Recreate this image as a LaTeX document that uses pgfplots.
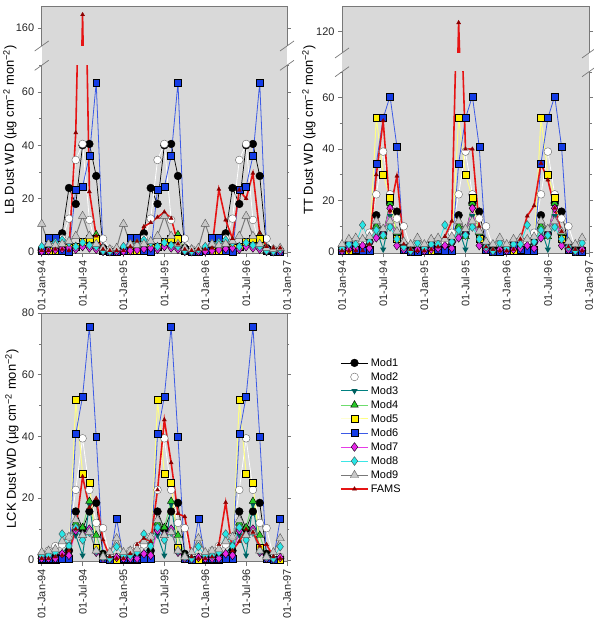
\documentclass[border=0pt]{standalone}
\usepackage{fontspec}
\setmainfont{Liberation Sans}
\usepackage{pgfplots}
\usepackage{pgfplotstable}
\pgfplotsset{compat=1.18}

\definecolor{bgc}{RGB}{217,217,217}
\definecolor{frm}{RGB}{120,120,120}
\definecolor{c3}{RGB}{0,128,128}
\definecolor{c3m}{RGB}{0,95,95}
\definecolor{c4}{RGB}{110,220,110}
\definecolor{c4m}{RGB}{40,200,40}
\definecolor{c5}{RGB}{255,255,130}
\definecolor{c5m}{RGB}{255,240,0}
\definecolor{c6}{RGB}{60,90,230}
\definecolor{c6m}{RGB}{20,60,230}
\definecolor{c7}{RGB}{230,60,230}
\definecolor{c7m}{RGB}{230,40,230}
\definecolor{c8}{RGB}{60,230,230}
\definecolor{c8m}{RGB}{40,230,230}
\definecolor{c9}{RGB}{120,120,120}
\definecolor{c9m}{RGB}{200,200,200}
\definecolor{cf}{RGB}{230,20,20}
\definecolor{cfm}{RGB}{140,0,0}

\pgfplotstableread{
m M1 M2 M3 M4 M5 M6 M7 M8 M9 F
0 0.5 1 0.3 0.5 0.3 0.5 0.3 2 10.5 0.5
1 2 2 0.5 0.5 0.5 5.5 0.5 3 3 0.5
2 4.5 3 1 1 0.5 5.5 0.8 3.5 2.5 1
3 7 5 1.5 1.5 1 0.3 1.2 4.5 3 1
4 24 12.5 2 2 1.5 0 1.5 3.5 4 0.5
5 18 34.5 1 2 2 23.5 1 2 6 44.7
6 40 40.5 2 3 4 24.5 2 3.5 13.5 165
7 40.5 12 3 4 5 36 1.5 2.5 6 22.6
8 28.5 2 5 6.5 5 63.5 1 2 3 6
9 1.5 5 0.5 0.5 0.5 1 0.2 0.5 1.5 1
10 0.5 1 0.2 0.2 0.2 0 0.1 0.3 1 0.5
11 0.5 0.5 0.2 0.2 0.2 0 0.2 1 1.5 0.5
12 0.5 1 0.3 0.5 0.3 0.5 0.3 2 10.5 0.5
13 2 2 0.5 0.5 0.5 5.5 0.5 3 3 2
14 4.5 3 1 1 0.5 5.5 0.8 3.5 2.5 4
15 7 5 1.5 1.5 1 0.3 1.2 4.5 3 9.5
16 24 12.5 2 2 1.5 0 1.5 3.5 4 11
17 18 34.5 1 2 2 23.5 1 2 6 13
18 40 40.5 2 3 4 24.5 2 3.5 13.5 15
19 40.5 12 3 4 5 36 1.5 2.5 6 12.6
20 28.5 2 5 6.5 5 63.5 1 2 3 3
21 1.5 5 0.5 0.5 0.5 1 0.2 0.5 1.5 1
22 0.5 1 0.2 0.2 0.2 0 0.1 0.3 1 0.5
23 0.5 0.5 0.2 0.2 0.2 0 0.2 1 1.5 1
24 0.5 1 0.3 0.5 0.3 0.5 0.3 2 10.5 1
25 2 2 0.5 0.5 0.5 5.5 0.5 3 3 1.5
26 4.5 3 1 1 0.5 5.5 0.8 3.5 2.5 23.5
27 7 5 1.5 1.5 1 0.3 1.2 4.5 3 12
28 24 12.5 2 2 1.5 0 1.5 3.5 4 5
29 18 34.5 1 2 2 23.5 1 2 6 23.2
30 40 40.5 2 3 4 24.5 2 3.5 13.5 20
31 40.5 12 3 4 5 36 1.5 2.5 6 29.5
32 28.5 2 5 6.5 5 63.5 1 2 3 7
33 1.5 5 0.5 0.5 0.5 1 0.2 0.5 1.5 2
34 0.5 1 0.2 0.2 0.2 0 0.1 0.3 1 1.5
35 0.5 0.5 0.2 0.2 0.2 0 0.2 1 1.5 1.5
}\tabLB

\pgfplotstableread{
m M1 M2 M3 M4 M5 M6 M7 M8 M9 F
0 0.5 1 0.5 0.5 0.5 0.5 0.5 1.5 3 0.5
1 1 2 0.5 0.5 0.5 3 1 3 5 0.5
2 1.5 3 1 1 0.5 1 1.5 3 5.5 0.5
3 2 4 1 1 1 0.5 2.5 10.5 5 0.5
4 4 7.5 3 2 1 0.5 1.5 4 6 3
5 14.3 22.4 9 10 52.3 34.4 5.5 8.5 12 30
6 7 39 1 6 30.2 52 7 6.5 9 51
7 19 22.4 14 19 21.2 60.5 17 9.7 12 16
8 15.7 13 4 7.5 5 41 2.5 5 8 29.5
9 3 10 1 2 1 1 1 2 4 3
10 1 2 0.3 0.5 0.5 0 0.3 0.5 3 1
11 0.5 1 0.3 0.5 0.5 0 1 3.5 5.5 0.5
12 0.5 1 0.5 0.5 0.5 0.5 0.5 1.5 3 0.5
13 1 2 0.5 0.5 0.5 3 1 3 5 1
14 1.5 3 1 1 0.5 1 1.5 3 5.5 2
15 2 4 1 1 1 0.5 2.5 10.5 5 6
16 4 7.5 3 2 1 0.5 1.5 4 6 12
17 14.3 22.4 9 10 52.3 34.4 5.5 8.5 12 123.5
18 7 39 1 6 30.2 52 7 6.5 9 40
19 19 22.4 14 19 21.2 60.5 17 9.7 12 40
20 15.7 13 4 7.5 5 41 2.5 5 8 10
21 3 10 1 2 1 1 1 2 4 2
22 1 2 0.3 0.5 0.5 0 0.3 0.5 3 1
23 0.5 1 0.3 0.5 0.5 0 1 3.5 5.5 0.5
24 0.5 1 0.5 0.5 0.5 0.5 0.5 1.5 3 0.5
25 1 2 0.5 0.5 0.5 3 1 3 5 1
26 1.5 3 1 1 0.5 1 1.5 3 5.5 5
27 2 4 1 1 1 0.5 2.5 10.5 5 14
28 4 7.5 3 2 1 0.5 1.5 4 6 18
29 14.3 22.4 9 10 52.3 34.4 5.5 8.5 12 34.4
30 7 39 1 6 30.2 52 7 6.5 9 28
31 19 22.4 14 19 21.2 60.5 17 9.7 12 17
32 15.7 13 4 7.5 5 41 2.5 5 8 8
33 3 10 1 2 1 1 1 2 4 2
34 1 2 0.3 0.5 0.5 0 0.3 0.5 3 1
35 0.5 1 0.3 0.5 0.5 0 1 3.5 5.5 0.5
}\tabTT

\pgfplotstableread{
m M1 M2 M3 M4 M5 M6 M7 M8 M9 F
0 0.5 1.5 0.5 0.3 0 0.5 0.5 1.5 2.5 0.5
1 0.5 3 0.5 0.3 0 0.5 0.5 1.5 3 0.5
2 1 4.5 1 0.5 0 0.5 0.5 2.5 3.5 1
3 1.5 5 2 1 0.3 0.5 2 8.4 6 1.5
4 3 7.5 5 2 0.5 0.5 1.5 4.5 7.5 3
5 15.7 22.7 8 12 52 40.8 9.5 10.5 13 10
6 10 39.4 1.5 10.5 28 53 8 6.5 8 27
7 15.7 22.7 18 19 25 75.6 10 9 9 17
8 18.5 12 3 8 4 39.8 2.5 3 3 20
9 2 10.3 1 1.5 0.5 0.5 0.5 1 1 6.5
10 0.5 1 0.3 0.3 0 0 0.3 0.5 2.5 1
11 0.5 1 0.5 0.3 0 13.3 0.8 4.3 7 0.5
12 0.5 1.5 0.5 0.3 0 0.5 0.5 1.5 2.5 0.5
13 0.5 3 0.5 0.3 0 0.5 0.5 1.5 3 2
14 1 4.5 1 0.5 0 0.5 0.5 2.5 3.5 5
15 1.5 5 2 1 0.3 0.5 2 8.4 6 7
16 3 7.5 5 2 0.5 0.5 1.5 4.5 7.5 6
17 15.7 22.7 8 12 52 40.8 9.5 10.5 13 22.7
18 10 39.4 1.5 10.5 28 53 8 6.5 8 45.4
19 15.7 22.7 18 19 25 75.6 10 9 9 31.5
20 18.5 12 3 8 4 39.8 2.5 3 3 15
21 2 10.3 1 1.5 0.5 0.5 0.5 1 1 14
22 0.5 1 0.3 0.3 0 0 0.3 0.5 2.5 1
23 0.5 1 0.5 0.3 0 13.3 0.8 4.3 7 0.5
24 0.5 1.5 0.5 0.3 0 0.5 0.5 1.5 2.5 0.5
25 0.5 3 0.5 0.3 0 0.5 0.5 1.5 3 1
26 1 4.5 1 0.5 0 0.5 0.5 2.5 3.5 5
27 1.5 5 2 1 0.3 0.5 2 8.4 6 18.6
28 3 7.5 5 2 0.5 0.5 1.5 4.5 7.5 3
29 15.7 22.7 8 12 52 40.8 9.5 10.5 13 6
30 10 39.4 1.5 10.5 28 53 8 6.5 8 10
31 15.7 22.7 18 19 25 75.6 10 9 9 9
32 18.5 12 3 8 4 39.8 2.5 3 3 4.5
33 2 10.3 1 1.5 0.5 0.5 0.5 1 1 5
34 0.5 1 0.3 0.3 0 0 0.3 0.5 2.5 1
35 0.5 1 0.5 0.3 0 13.3 0.8 4.3 7 0.5
}\tabLCK

\pgfplotsset{
  s1/.style={black, line width=0.7pt, mark=*, mark size=3.9pt, mark options={solid, fill=black, draw=black, line width=0.4pt}},
  s2/.style={white, line width=0.8pt, mark=*, mark size=3.9pt, mark options={solid, fill=white, draw=gray!80!black, line width=0.4pt}},
  s3/.style={c3, line width=1pt, mark=triangle*, mark size=2.6pt, mark options={solid, rotate=180, fill=c3m, draw=c3m}},
  s4/.style={c4, line width=0.9pt, mark=triangle*, mark size=4.4pt, mark options={solid, fill=c4m, draw=black, line width=0.4pt}},
  s5/.style={c5, line width=1pt, mark=square*, mark size=3.5pt, mark options={solid, fill=c5m, draw=black, line width=0.4pt}},
  s6/.style={c6, line width=0.8pt, mark=square*, mark size=3.5pt, mark options={solid, fill=c6m, draw=black, line width=0.4pt}},
  s7/.style={c7, line width=0.9pt, mark=diamond*, mark size=4.4pt, mark options={solid, fill=c7m, draw=black, line width=0.4pt}},
  s8/.style={c8, line width=0.9pt, mark=diamond*, mark size=4.4pt, mark options={solid, fill=c8m, draw=black!70, line width=0.4pt}},
  s9/.style={c9, line width=1pt, mark=triangle*, mark size=4.8pt, mark options={solid, fill=c9m, draw=black!65, line width=0.4pt}},
  sf/.style={cf, line width=1.6pt, mark=triangle*, mark size=2.4pt, mark options={solid, fill=cfm, draw=cfm, line width=0.3pt}},
  base/.style={scale only axis, xmin=0, xmax=36,
    axis line style={draw=frm, line width=0.6pt},
    tick style={draw=frm, line width=0.6pt},
    major tick length=4bp, minor tick length=2.5bp, tick align=outside,
    /pgf/number format/assume math mode=true,
    tick label style={font=\fontsize{11}{13}\selectfont, text=black!85},
    yticklabel pos=left, clip=true},
  lowerax/.style={base, axis x line*=bottom, axis y line*=box,
    xtick={0,6,...,36},
    xticklabels={01-Jan-94,01-Jul-94,01-Jan-95,01-Jul-95,01-Jan-96,01-Jul-96,01-Jan-97},
    xticklabel style={rotate=90, anchor=east},
    ytick={0,20,40,60,80}, minor ytick={10,30,50,70}},
  upperax/.style={base, axis x line*=top, axis y line*=box, xtick=\empty},
}

\newcommand{\allplots}[1]{%
  \addplot[s1] table[x=m,y=M1] {#1};
  \addplot[s2] table[x=m,y=M2] {#1};
  \addplot[s3] table[x=m,y=M3] {#1};
  \addplot[s4] table[x=m,y=M4] {#1};
  \addplot[s5] table[x=m,y=M5] {#1};
  \addplot[s6] table[x=m,y=M6] {#1};
  \addplot[s7] table[x=m,y=M7] {#1};
  \addplot[s8] table[x=m,y=M8] {#1};
  \addplot[s9] table[x=m,y=M9] {#1};
  \addplot[sf] table[x=m,y=F] {#1};
}

\begin{document}
\begin{tikzpicture}
% backgrounds
\fill[bgc] (41.7bp,368.7bp) rectangle (287bp,616bp);
\fill[bgc] (342bp,368.7bp) rectangle (589bp,616bp);
\fill[bgc] (41.7bp,60.5bp) rectangle (287bp,309bp);

% ---- LB lower
\begin{axis}[lowerax, anchor=south west, at={(41.7bp,368.7bp)},
  width=245.3bp, height=188bp, ymin=-0.5, ymax=70]
\allplots{\tabLB}
\end{axis}
% ---- LB upper
\begin{axis}[upperax, anchor=south west, at={(41.7bp,576bp)},
  width=245.3bp, height=40bp, ymin=153.25, ymax=168.25, ytick={160}]
\addplot[sf] table[x=m,y=F] {\tabLB};
\end{axis}

% ---- TT lower
\begin{axis}[lowerax, anchor=south west, at={(342bp,368.7bp)},
  width=247bp, height=181.5bp, ymin=-0.5, ymax=70]
\allplots{\tabTT}
\end{axis}
% ---- TT upper
\begin{axis}[upperax, anchor=south west, at={(342bp,569bp)},
  width=247bp, height=47bp, ymin=111.7, ymax=130, ytick={120}]
\addplot[sf] table[x=m,y=F] {\tabTT};
\end{axis}

% ---- LCK
\begin{axis}[lowerax, axis x line*=box, anchor=south west, at={(41.7bp,60.5bp)},
  width=245.3bp, height=248.5bp, ymin=-0.5, ymax=80,
  xtick pos=bottom,
  legend style={at={(1.212,0.831)}, anchor=north west, draw=none, fill=none,
    font=\fontsize{11}{13}\selectfont, row sep=0.6bp, inner sep=1pt,
    cells={anchor=west}},
  legend image code/.code={\draw[mark repeat=2,mark phase=2,#1] plot coordinates {(0bp,0bp) (13.5bp,0bp) (27bp,0bp)};}]
\allplots{\tabLCK}
\legend{Mod1,Mod2,Mod3,Mod4,Mod5,Mod6,Mod7,Mod8,Mod9,FAMS}
\end{axis}

% axis breaks
\foreach \x/\y in {41.7/576, 41.7/556.7, 287/576, 287/556.7, 342/569, 342/550.25, 589/569, 589/550.25}{
  \draw[frm, line width=0.7pt] (\x bp-7bp,\y bp-5bp) -- (\x bp+7bp,\y bp+5bp);
}

% y labels
\node[rotate=90, font=\fontsize{13}{15}\selectfont] at (10bp,492bp) {LB Dust WD (µg cm\textsuperscript{−2} mon\textsuperscript{−2})};
\node[rotate=90, font=\fontsize{13}{15}\selectfont] at (309bp,492bp) {TT Dust WD (µg cm\textsuperscript{−2} mon\textsuperscript{−2})};
\node[rotate=90, font=\fontsize{13}{15}\selectfont] at (12bp,183bp) {LCK Dust WD (µg cm\textsuperscript{−2} mon\textsuperscript{−2})};

\pgfresetboundingbox
\path (0,0) rectangle (594bp,622bp);
\end{tikzpicture}
\end{document}
